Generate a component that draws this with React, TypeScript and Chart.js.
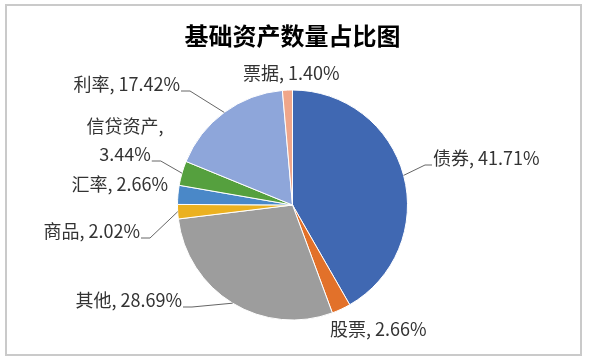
import React, { useEffect, useRef } from "react";
import { Chart, registerables } from "chart.js";

Chart.register(...registerables);

const title = "基础资产数量占比图";
const categories = ["债券", "股票", "其他", "商品", "汇率", "信贷资产", "利率", "票据"];
const shares = [41.71, 2.66, 28.69, 2.02, 2.66, 3.44, 17.42, 1.4];
const sliceColors = ["#4068B2", "#E2712A", "#9D9D9D", "#EBB120", "#4A88C8", "#55A03E", "#8EA6DA", "#F0A68A"];

// label placement relative to pie centre (layout only)
const labelLayout = [
  { dx: 140.5, dy: -47, align: "left", leader: true, split: false },
  { dx: 37.5, dy: 124, align: "left", leader: false, split: false },
  { dx: -110.5, dy: 95, align: "right", leader: true, split: false },
  { dx: -152.5, dy: 26, align: "right", leader: true, split: false },
  { dx: -124.5, dy: -21, align: "right", leader: false, split: false },
  { dx: -167.5, dy: -65, align: "center", leader: true, split: true },
  { dx: -112.5, dy: -121, align: "right", leader: true, split: false },
  { dx: -49.5, dy: -132, align: "left", leader: false, split: false },
];

const LABEL_FONT = "18px 'Noto Sans CJK SC', 'Noto Sans', sans-serif";

const decorPlugin = {
  id: "decor",
  beforeDraw(chart: any) {
    const ctx = chart.ctx;
    ctx.save();
    ctx.fillStyle = "#ffffff";
    ctx.fillRect(0, 0, chart.width, chart.height);
    ctx.strokeStyle = "#CACACA";
    ctx.lineWidth = 2;
    ctx.strokeRect(6, 5, 575, 350);
    ctx.fillStyle = "#000000";
    ctx.font = "bold 24px 'Noto Sans CJK SC', sans-serif";
    ctx.textAlign = "center";
    ctx.textBaseline = "middle";
    ctx.fillText(title, 292.5, 35.5);
    ctx.restore();
  },
  afterDraw(chart: any) {
    const ctx = chart.ctx;
    const meta = chart.getDatasetMeta(0);
    ctx.save();
    ctx.font = LABEL_FONT;
    ctx.textBaseline = "middle";
    meta.data.forEach((arc: any, i: number) => {
      const p = arc.getProps(["x", "y", "startAngle", "endAngle", "outerRadius"], true);
      const lay = labelLayout[i];
      const cx = p.x;
      const cy = p.y;
      const lx = cx + lay.dx;
      const ly = cy + lay.dy;
      const pct = shares[i].toFixed(2) + "%";
      const lines = lay.split ? [categories[i] + ",", pct] : [categories[i] + ", " + pct];
      const lineH = 28;
      const y0 = ly - ((lines.length - 1) * lineH) / 2;
      ctx.fillStyle = "#333333";
      ctx.textAlign = lay.align;
      lines.forEach((t, k) => ctx.fillText(t, lx, y0 + k * lineH));

      if (lay.leader) {
        const mid = (p.startAngle + p.endAngle) / 2;
        const ex = cx + Math.cos(mid) * p.outerRadius;
        const ey = cy + Math.sin(mid) * p.outerRadius;
        const last = lines[lines.length - 1];
        const w = ctx.measureText(last).width;
        const lineY = y0 + (lines.length - 1) * lineH + 7;
        let sx: number, elx: number;
        if (lay.align === "left") {
          sx = lx - 1;
          elx = sx - 7;
        } else {
          const right = lay.align === "right" ? lx : lx + w / 2;
          sx = right + 1;
          elx = sx + 9;
        }
        ctx.strokeStyle = "#666666";
        ctx.lineWidth = 1;
        ctx.beginPath();
        ctx.moveTo(sx, lineY);
        ctx.lineTo(elx, lineY);
        ctx.lineTo(ex, ey);
        ctx.stroke();
      }
    });
    ctx.restore();
  },
};

export default function App() {
  const ref = useRef<HTMLCanvasElement>(null);
  useEffect(() => {
    if (!ref.current) return;
    const chart = new Chart(ref.current, {
      type: "pie",
      data: {
        labels: categories,
        datasets: [
          {
            data: shares,
            backgroundColor: sliceColors,
            borderColor: "#ffffff",
            borderWidth: 1,
          },
        ],
      },
      options: {
        responsive: false,
        animation: false,
        layout: { padding: { left: 177, right: 182, top: 89.5, bottom: 40.5 } },
        plugins: {
          legend: { display: false },
          title: { display: false },
          tooltip: { enabled: false },
        },
      },
      plugins: [decorPlugin],
    });
    return () => chart.destroy();
  }, []);
  return (
    <div style={{ position: "fixed", left: 0, top: 0, width: 590, height: 361, background: "#fff" }}>
      <canvas ref={ref} width={590} height={361} />
    </div>
  );
}
